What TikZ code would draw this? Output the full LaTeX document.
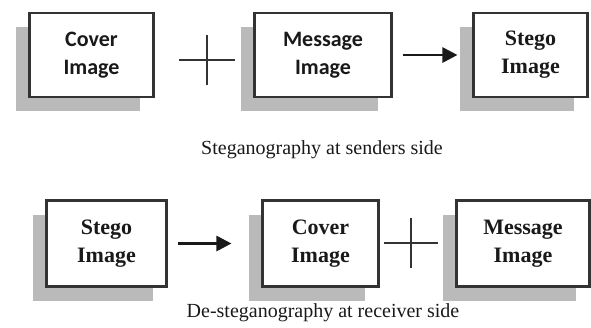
\documentclass[tikz,border=0pt]{standalone}
\usepackage{fontspec}
\setmainfont{Liberation Serif}
\newfontfamily\boxsans{Carlito}
\usetikzlibrary{shadows,arrows.meta}
\begin{document}
\begin{tikzpicture}[x=1pt,y=-1pt,
  imgbox/.style={draw=black!80, line width=2.1pt, fill=white, minimum height=84pt,
    inner sep=0pt, align=center, text=black!90,
    font=\fontsize{22}{28}\selectfont\bfseries,
    drop shadow={shadow xshift=-14pt, shadow yshift=-14pt, fill=black!27, opacity=1, draw=none}},
  sansbox/.style={imgbox, font=\boxsans\fontsize{22}{28}\selectfont\bfseries},
  plusline/.style={draw=black!80, line width=1.6pt},
  flow/.style={draw=black!90, line width=2.8pt, -{Triangle[length=15pt,width=15pt]}},
  caption/.style={font=\fontsize{20}{24}\selectfont, text=black!90}]
\useasboundingbox (0,0) rectangle (591,327);
% top row
\node[sansbox, minimum width=124pt] (cover1) at (91.5,55) {Cover\\Image};
\node[sansbox, minimum width=137pt] (msg1) at (323,55) {Message\\Image};
\node[imgbox, minimum width=114pt] (stego1) at (530.5,55) {Stego\\Image};
\coordinate (plus1) at (207,60);
\draw[plusline] ([xshift=-28pt]plus1) -- ([xshift=28pt]plus1);
\draw[plusline] ([yshift=-25pt]plus1) -- ([yshift=25pt]plus1);
\draw[flow] ([xshift=10pt]msg1.east) -- ([xshift=-15pt]stego1.west);
\node[caption] (cap1) at (322,150) {Steganography at senders side};
% bottom row
\node[imgbox, minimum width=120pt, minimum height=86pt] (stego2) at (106.5,243.5) {Stego\\Image};
\node[imgbox, minimum width=116pt, minimum height=86pt] (cover2) at (320.5,243.5) {Cover\\Image};
\node[imgbox, minimum width=133pt, minimum height=86pt] (msg2) at (523,243.5) {Message\\Image};
\draw[flow] ([xshift=10pt]stego2.east) -- ([xshift=-30pt]cover2.west);
\coordinate (plus2) at (411,243);
\draw[plusline] ([xshift=-27pt]plus2) -- ([xshift=27pt]plus2);
\draw[plusline] ([yshift=-25pt]plus2) -- ([yshift=25pt]plus2);
\node[caption] (cap2) at (323,313) {De-steganography at receiver side};
\end{tikzpicture}
\end{document}
